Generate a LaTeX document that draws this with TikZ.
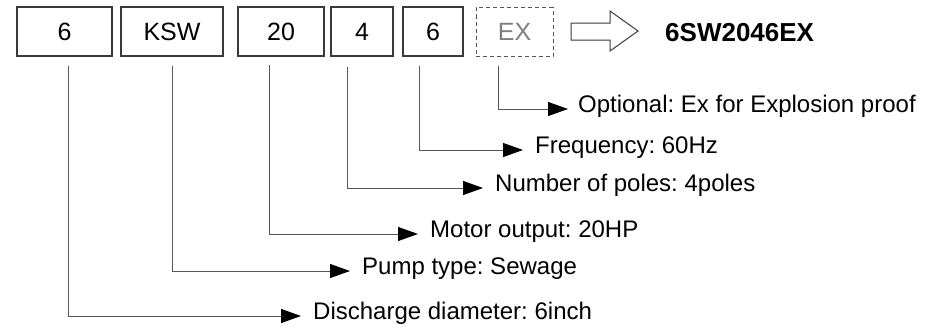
\documentclass[tikz,border=0pt]{standalone}
\usepackage{fontspec}
\setmainfont{Liberation Sans}
\usetikzlibrary{arrows.meta}
\definecolor{boxgray}{HTML}{3A3A3A}
\definecolor{linegray}{HTML}{555555}
\definecolor{exgray}{HTML}{7F7F7F}
\frenchspacing
\begin{document}
\begin{tikzpicture}[x=1pt,y=-1pt,
  box/.style={draw=boxgray, line width=1.2pt, minimum height=49pt, inner sep=0pt,
    font=\fontsize{25}{29}\selectfont},
  exbox/.style={box, draw=linegray, dash pattern=on 4pt off 3pt, line width=1pt, text=exgray},
  lab/.style={anchor=west, inner sep=0pt, text height=0.72em, text depth=0pt,
    font=\fontsize{24}{28}\selectfont},
  conn/.style={draw=linegray, line width=1pt, shorten >=12pt,
    -{Triangle[length=20pt,width=14pt,color=black]}},
  bigarrow/.style={draw=boxgray, line width=1pt, fill=white}]
\useasboundingbox (0,0) rectangle (925,332);
% code boxes
\node[box, minimum width=95pt]  (b1) at (64.5,31.5) {6};
\node[box, minimum width=102pt] (b2) at (172,31.5) {KSW};
\node[box, minimum width=86pt]  (b3) at (281,31.5) {20};
\node[box, minimum width=62pt]  (b4) at (362,31.5) {4};
\node[box, minimum width=60pt]  (b5) at (433,31.5) {6};
\node[exbox, minimum width=77pt] (b6) at (514.5,32) {EX};
% hollow arrow and result
\draw[bigarrow] (571,23) -- (610,23) -- (610,11) -- (638,31) -- (610,51) -- (610,40) -- (571,40) -- cycle;
\node[anchor=west, inner sep=0pt, font=\bfseries\fontsize{26}{30}\selectfont] (res) at (665,33) {6SW2046EX};
% labels
\node[lab] (l1) at (313,316) {Discharge diameter: 6inch};
\node[lab] (l2) at (362,271) {Pump type: Sewage};
\node[lab] (l3) at (430,234) {Motor output: 20HP};
\node[lab] (l4) at (495,188) {Number of poles: 4poles};
\node[lab] (l5) at (535,150) {Frequency: 60Hz};
\node[lab] (l6) at (578,109) {Optional: Ex for Explosion proof};
% connector start points (just below the boxes)
\coordinate (s1) at (68,66);
\coordinate (s2) at (172,66);
\coordinate (s3) at (269,65);
\coordinate (s4) at (347,67);
\coordinate (s5) at (419,66);
\coordinate (s6) at (498,66);
\draw[conn] (s1) |- (l1.west);
\draw[conn] (s2) |- (l2.west);
\draw[conn] (s3) |- (l3.west);
\draw[conn] (s4) |- (l4.west);
\draw[conn] (s5) |- (l5.west);
\draw[conn, shorten >=10pt] (s6) |- (l6.west);
\end{tikzpicture}
\end{document}
